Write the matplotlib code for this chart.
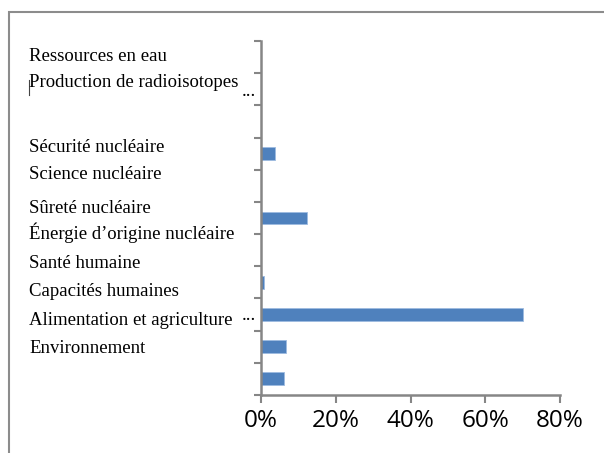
import matplotlib
matplotlib.use("Agg")
import matplotlib.pyplot as plt
from matplotlib.patches import Rectangle
from matplotlib.lines import Line2D

# share of projects per slot, bottom to top
shares = [6.2, 6.7, 70.1, 0.8, 0.0, 12.2, 0.0, 3.7, 0.0, 0.0, 0.0]

# text box labels and their baselines (pixels from the top)
labels = ["Ressources en eau", "Production de radioisotopes",
          "Sécurité nucléaire", "Science nucléaire", "Sûreté nucléaire",
          "Énergie d\u2019origine nucléaire", "Santé humaine",
          "Capacités humaines", "Alimentation et agriculture",
          "Environnement"]
label_y = [61, 87, 152, 179, 213, 239, 268, 296, 325, 353]

xticks = [0, 20, 40, 60, 80]
xtick_labels = ["0%", "20%", "40%", "60%", "80%"]

W, H = 604, 453
fig = plt.figure(figsize=(W / 100, H / 100), dpi=100)

# outer chart border, running off the right and bottom edges
fig.patches.append(Rectangle((9 / W, -0.1), 1.2, 1 - 12 / H + 0.1,
                             transform=fig.transFigure, fill=False,
                             edgecolor="#8c8c8c", linewidth=1.5))

ax = fig.add_axes([261 / W, 1 - 395 / H, (560 - 261) / W, (395 - 41) / H])
n = len(shares)
ax.barh(range(n), shares, height=0.4, color="#4f81bd",
        edgecolor="#9dbbe0", linewidth=0.6)
ax.set_xlim(0, 80)
ax.set_ylim(-0.5, n - 0.5)

for s in ["top", "right"]:
    ax.spines[s].set_visible(False)
for s in ["left", "bottom"]:
    ax.spines[s].set_color("#868686")
    ax.spines[s].set_linewidth(1.8)

ax.set_yticks([i - 0.5 for i in range(n + 1)])
ax.set_yticklabels([])
ax.tick_params(axis="y", length=5, width=1.5, color="#868686", direction="out")
ax.set_xticks(xticks)
ax.set_xticklabels(xtick_labels, fontfamily="Open Sans", fontsize=17.5)
ax.tick_params(axis="x", length=6, width=1.5, color="#868686",
               direction="out", pad=4)

for txt, y in zip(labels, label_y):
    fig.text(29 / W, 1 - y / H, txt, fontfamily="Liberation Serif",
             fontsize=13.5, va="baseline", ha="left", color="black")

# truncation marks next to the long labels
fig.text(242 / W, 1 - 91 / H, "...", fontfamily="Liberation Serif",
         fontsize=14, va="center", ha="left")
fig.text(242 / W, 1 - 316 / H, "...", fontfamily="Liberation Serif",
         fontsize=14, va="center", ha="left")

# text cursor in front of the second label
fig.lines.append(Line2D([28.5 / W, 28.5 / W], [1 - 80 / H, 1 - 95 / H],
                        transform=fig.transFigure, color="#444444",
                        linewidth=0.8))

fig.savefig("out.png", dpi=100)
